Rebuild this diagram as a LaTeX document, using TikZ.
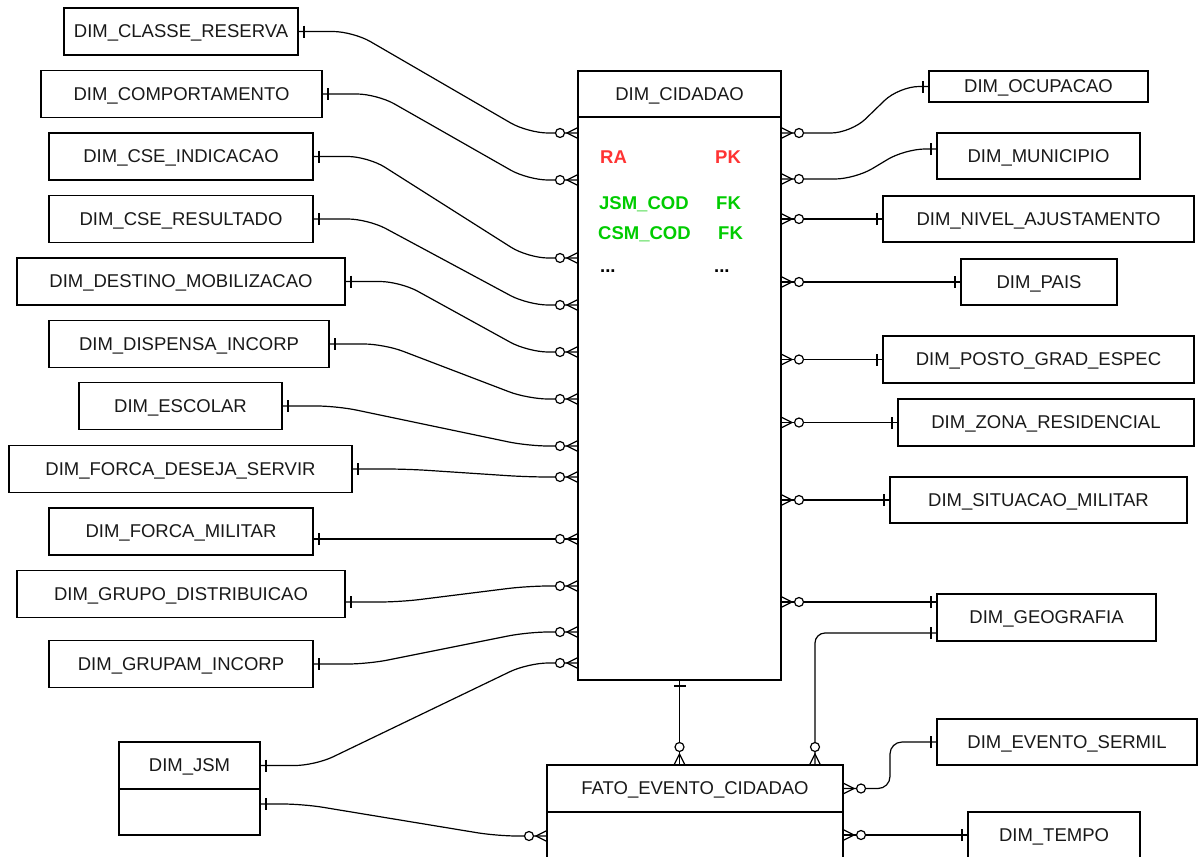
\documentclass[tikz,border=0pt]{standalone}
\usepackage{fontspec}
\setmainfont{Liberation Sans}
\usepackage{tikz}
\usetikzlibrary{positioning}
\usepackage{xcolor}
\definecolor{pkred}{HTML}{FF3333}
\definecolor{fkgreen}{HTML}{00CC00}

\pgfdeclarearrow{
  name=ERone,
  setup code={
    \pgfarrowssettipend{0pt}
    \pgfarrowssetlineend{0pt}
    \pgfarrowssetvisualbackend{-7pt}
    \pgfarrowssetbackend{-7pt}
  },
  drawing code={
    \pgfpathmoveto{\pgfqpoint{-6pt}{-6pt}}
    \pgfpathlineto{\pgfqpoint{-6pt}{6pt}}
    \pgfusepathqstroke
  }
}
\pgfdeclarearrow{
  name=ERmany,
  setup code={
    \pgfarrowssettipend{0pt}
    \pgfarrowssetlineend{0pt}
    \pgfarrowssetvisualbackend{-23pt}
    \pgfarrowssetbackend{-23pt}
  },
  drawing code={
    \pgfpathmoveto{\pgfqpoint{0pt}{5.5pt}}
    \pgfpathlineto{\pgfqpoint{-11pt}{0pt}}
    \pgfpathlineto{\pgfqpoint{0pt}{-5.5pt}}
    \pgfusepathqstroke
    \pgfpathcircle{\pgfqpoint{-18pt}{0pt}}{4.5pt}
    \pgfsetfillcolor{white}
    \pgfusepathqfillstroke
  }
}

\begin{document}
\begin{tikzpicture}[
    x=1pt,y=-1pt,
    tbl/.style={draw,line width=1.1pt,outer sep=0pt,inner sep=0pt,minimum height=47,text depth=0pt,text=black!90,font=\fontsize{18.5}{22}\selectfont},
    key/.style={anchor=base west,inner sep=0pt,font=\fontsize{18.5}{22}\selectfont\bfseries},
    rel/.style={ERone-ERmany,line width=1.2pt,rounded corners=20pt}
  ]
    \fill[white] (0,0) rectangle (1200,857);
    \clip (0,0) rectangle (1200,857);
    \node[tbl,minimum width=234] (cr) at (181,31.5) {DIM\_CLASSE\_RESERVA};
    \node[tbl,minimum width=281] (co) at (181.5,94) {DIM\_COMPORTAMENTO};
    \node[tbl,minimum width=264] (ind) at (181,156.5) {DIM\_CSE\_INDICACAO};
    \node[tbl,minimum width=264] (res) at (181,219) {DIM\_CSE\_RESULTADO};
    \node[tbl,minimum width=328] (dm) at (181,281.5) {DIM\_DESTINO\_MOBILIZACAO};
    \node[tbl,minimum width=280] (di) at (189,344) {DIM\_DISPENSA\_INCORP};
    \node[tbl,minimum width=203] (es) at (180.5,406) {DIM\_ESCOLAR};
    \node[tbl,minimum width=343] (fd) at (180.5,469) {DIM\_FORCA\_DESEJA\_SERVIR};
    \node[tbl,minimum width=264] (fm) at (181,531.5) {DIM\_FORCA\_MILITAR};
    \node[tbl,minimum width=328] (gd) at (181,594) {DIM\_GRUPO\_DISTRIBUICAO};
    \node[tbl,minimum width=264] (gi) at (181,664) {DIM\_GRUPAM\_INCORP};
    \node[tbl,minimum width=141] (jsm) at (189.5,765.5) {DIM\_JSM};
    \node[tbl,minimum width=141,minimum height=46,below=0pt of jsm] (jsmb) {};

    \node[tbl,minimum width=203,minimum height=46] (ci) at (679.5,94) {DIM\_CIDADAO};
    \node[tbl,minimum width=203,minimum height=563,below=0pt of ci] (cib) {};
    \node[key,text=pkred] (ra) at (600,163.5) {RA};
    \node[key,text=pkred] (pk) at (715,163.5) {PK};
    \node[key,text=fkgreen] (jc) at (599,209.5) {JSM\_COD};
    \node[key,text=fkgreen] (fk1) at (716,209.5) {FK};
    \node[key,text=fkgreen] (cc) at (598,239.5) {CSM\_COD};
    \node[key,text=fkgreen] (fk2) at (718,239.5) {FK};
    \node[key] (d1) at (600,272) {...};
    \node[key] (d2) at (714,272) {...};
    \node[tbl,minimum width=296] (fa) at (695,788.5) {FATO\_EVENTO\_CIDADAO};
    \node[tbl,minimum width=296,minimum height=90,below=0pt of fa] (fab) {};

    \node[tbl,minimum width=219,minimum height=31] (oc) at (1038.5,86.5) {DIM\_OCUPACAO};
    \node[tbl,minimum width=203,minimum height=46] (mu) at (1038.5,156) {DIM\_MUNICIPIO};
    \node[tbl,minimum width=311,minimum height=46] (ni) at (1038.5,219) {DIM\_NIVEL\_AJUSTAMENTO};
    \node[tbl,minimum width=156,minimum height=46] (pa) at (1039,282) {DIM\_PAIS};
    \node[tbl,minimum width=311] (po) at (1038.5,359.5) {DIM\_POSTO\_GRAD\_ESPEC};
    \node[tbl,minimum width=296] (zo) at (1046,422.5) {DIM\_ZONA\_RESIDENCIAL};
    \node[tbl,minimum width=297,minimum height=46] (si) at (1038.5,500) {DIM\_SITUACAO\_MILITAR};
    \node[tbl,minimum width=219] (ge) at (1046.5,617.5) {DIM\_GEOGRAFIA};
    \node[tbl,minimum width=260,minimum height=46] (ev) at (1067,742) {DIM\_EVENTO\_SERMIL};
    \node[tbl,minimum width=172,minimum height=46] (te) at (1054,835) {DIM\_TEMPO};

    \foreach \n/\y in {1/133,2/180,3/258,4/305,5/352,6/399,7/446,8/477,9/539,10/586,11/632,12/663}
      \coordinate (l\n) at (cib.west |- 0,\y);
    \foreach \b/\s/\n in {cr/0/1,co/0/2,ind/0/3,res/0/4,dm/0/5,di/0/6,es/0/7,fd/0/8,fm/-7.5/9,gd/-8/10,gi/0/11,jsm/0/12}
      {\draw[rel] ([yshift=\s]\b.east) -- ++(55,0) -- ([xshift=-50pt]l\n) -- (l\n);}
    \coordinate (f1) at (fab.west |- 0,836);
    \draw[rel] ([yshift=8]jsmb.east) -- ++(43,0) -- ([xshift=-50pt]f1) -- (f1);

    \coordinate (r1) at (cib.east |- 0,133);
    \coordinate (r2) at (cib.east |- 0,179);
    \draw[rel] (oc.west) -- ++(-30,0) -- ([xshift=70pt]r1) -- (r1);
    \draw[rel] ([yshift=7]mu.west) -- ++(-32,0) -- ([xshift=74pt]r2) -- (r2);
    \foreach \b in {ni,pa,po,zo,si} {\draw[rel] (\b.west) -- (cib.east |- \b.west);}
    \coordinate (g1) at ([yshift=15.5]ge.west);
    \draw[rel] (g1) -- (cib.east |- g1);
    \draw[rel,rounded corners=10pt] ([yshift=-15.5]ge.west) -| ([xshift=120pt]fa.north);
    \draw[rel] (cib.south) -- (fa.north -| cib.south);
    \draw[rel,rounded corners=12pt] (ev.west) -- ++(-47,0) |- (fa.east);
    \draw[rel] (te.west) -- (fab.east |- te.west);
  \end{tikzpicture}
\end{document}
